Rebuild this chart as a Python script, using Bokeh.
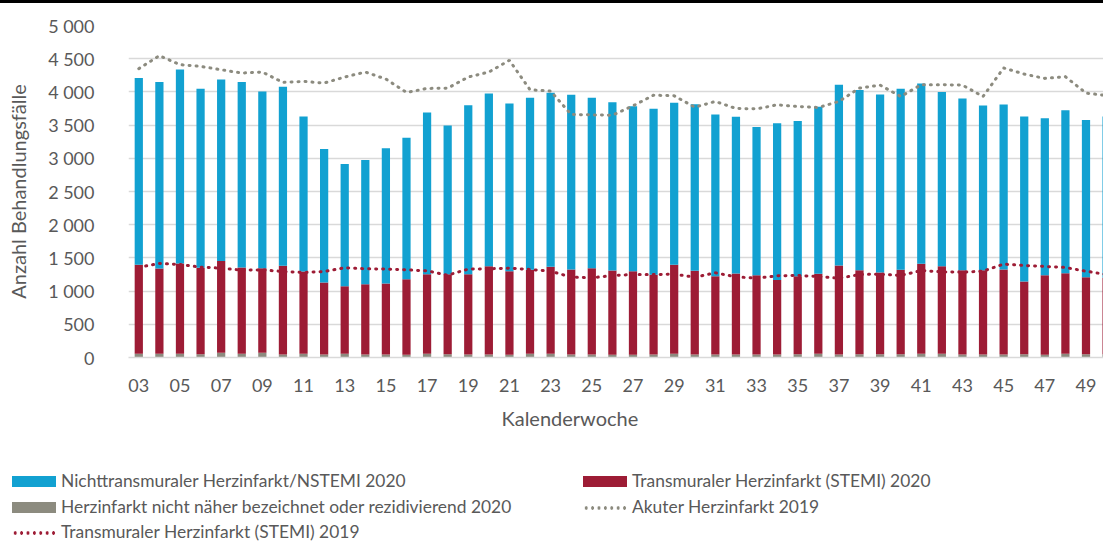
from bokeh.plotting import figure
from bokeh.models import (Range1d, FixedTicker, Title, Div, ColumnDataSource)
from bokeh.layouts import column
from bokeh.embed import file_html
from bokeh.resources import INLINE

# ---- data ----
weeks = list(range(3, 51))
tick_weeks = list(range(3, 50, 2))
tick_labels = ["%02d" % w for w in tick_weeks]

grey_2020 = [55, 55, 55, 50, 70, 55, 70, 45, 55, 45, 55, 45, 45, 40, 55, 50, 45, 45, 40, 55, 55, 45, 45, 40,
             40, 45, 55, 45, 45, 45, 45, 45, 50, 55, 45, 50, 50, 50, 55, 55, 45, 45, 45, 50, 40, 55, 50, 50]
stemi_2020 = [1341, 1286, 1361, 1301, 1382, 1301, 1276, 1336, 1240, 1084, 1019, 1059, 1069, 1139, 1200, 1205,
              1210, 1331, 1260, 1265, 1311, 1281, 1301, 1270, 1260, 1200, 1341, 1260, 1180, 1220, 1195, 1124,
              1175, 1205, 1341, 1265, 1230, 1270, 1356, 1321, 1270, 1270, 1281, 1094, 1200, 1215, 1160, 1150]
nstemi_2020 = [2812, 2807, 2923, 2696, 2736, 2792, 2661, 2696, 2334, 2011, 1839, 1870, 2036, 2132, 2434, 2238,
               2545, 2601, 2525, 2591, 2621, 2630, 2565, 2536, 2485, 2500, 2439, 2510, 2434, 2359, 2233, 2359,
               2338, 2515, 2722, 2712, 2681, 2727, 2717, 2621, 2586, 2480, 2484, 2485, 2364, 2455, 2368, 2429]
akut_2019 = [4350, 4546, 4410, 4385, 4334, 4284, 4299, 4143, 4158, 4133, 4224, 4299, 4193, 3992, 4052, 4057,
             4224, 4299, 4476, 4032, 4012, 3659, 3654, 3649, 3790, 3951, 3941, 3770, 3856, 3750, 3745, 3805,
             3780, 3765, 3856, 4057, 4103, 3931, 4108, 4108, 4103, 3931, 4360, 4269, 4203, 4229, 3982, 3946]
stemi_2019 = [1361, 1416, 1401, 1361, 1346, 1315, 1320, 1295, 1280, 1295, 1351, 1336, 1331, 1320, 1305, 1240,
              1331, 1336, 1346, 1326, 1300, 1210, 1200, 1235, 1250, 1250, 1255, 1210, 1275, 1215, 1194, 1230,
              1235, 1220, 1194, 1250, 1255, 1235, 1310, 1290, 1285, 1300, 1406, 1386, 1371, 1356, 1300, 1250]

names = ["Nichttransmuraler Herzinfarkt/NSTEMI 2020",
         "Transmuraler Herzinfarkt (STEMI) 2020",
         "Herzinfarkt nicht näher bezeichnet oder rezidivierend 2020",
         "Akuter Herzinfarkt 2019",
         "Transmuraler Herzinfarkt (STEMI) 2019"]

C_BLUE = "#12a1d1"
C_RED = "#9d1c35"
C_GREY = "#8c8b7f"
C_TEXT = "#595959"
C_GRID = "#d9d9d9"
FONT = "Lato"
W = 1103

src = ColumnDataSource(dict(week=weeks, grey=grey_2020, stemi=stemi_2020, nstemi=nstemi_2020,
                            akut19=akut_2019, stemi19=stemi_2019))

p = figure(width=W, height=441, output_backend="svg", toolbar_location=None,
           x_range=Range1d(2.5, 49.85), y_range=Range1d(0, 5000),
           min_border_left=128, min_border_right=0, min_border_top=22, min_border_bottom=87)
p.outline_line_color = None

p.vbar_stack(["grey", "stemi", "nstemi"], x="week", width=0.4, source=src,
             color=[C_GREY, C_RED, C_BLUE], line_color=None)
p.line("week", "akut19", source=src, line_color=C_GREY, line_width=3,
       line_dash="1 6", line_cap="round")
p.line("week", "stemi19", source=src, line_color=C_RED, line_width=3,
       line_dash="1 6", line_cap="round")

# axes
p.xgrid.grid_line_color = None
p.ygrid.grid_line_color = C_GRID
p.ygrid.grid_line_width = 1.5
p.yaxis.ticker = FixedTicker(ticks=list(range(0, 5001, 500)))
p.yaxis.major_label_overrides = {v: ("{:,}".format(v).replace(",", " ")) for v in range(0, 5001, 500)}
p.yaxis.axis_line_color = None
p.yaxis.major_tick_line_color = None
p.yaxis.minor_tick_line_color = None
p.yaxis.major_label_standoff = 28
p.yaxis.axis_label = "Anzahl Behandlungsfälle"
p.yaxis.axis_label_standoff = 15

p.xaxis.ticker = FixedTicker(ticks=tick_weeks)
p.xaxis.major_label_overrides = dict(zip(tick_weeks, tick_labels))
p.xaxis.axis_line_color = C_GRID
p.xaxis.axis_line_width = 1.5
p.xaxis.major_tick_line_color = None
p.xaxis.minor_tick_line_color = None
p.xaxis.major_label_standoff = 15

for ax in (p.xaxis[0], p.yaxis[0]):
    ax.major_label_text_font = FONT
    ax.major_label_text_font_size = "18px"
    ax.major_label_text_color = C_TEXT
    ax.axis_label_text_font = FONT
    ax.axis_label_text_font_size = "20px"
    ax.axis_label_text_font_style = "normal"
    ax.axis_label_text_color = C_TEXT

xt = Title(text="Kalenderwoche", align="left", offset=373, text_font=FONT, text_font_size="20px",
           text_font_style="normal", text_color=C_TEXT, standoff=18)
p.add_layout(xt, "below")

# ---- legend (HTML strip below the chart) ----
def swatch_box(color):
    return ('<span style="display:inline-block;width:44px;height:11px;background:%s;'
            'vertical-align:middle;margin-right:5px;position:relative;top:-1px"></span>' % color)


def swatch_dots(color):
    return ('<span style="display:inline-block;width:44px;height:4px;vertical-align:middle;'
            'margin-right:5px;position:relative;top:-1px;'
            'background-image:radial-gradient(circle at center, %s 1.5px, rgba(255,255,255,0) 1.9px);'
            'background-size:6.4px 4px;background-repeat:repeat-x"></span>' % color)


legend_rows = [
    (12, 28, swatch_box(C_BLUE), names[0]),
    (583, 28, swatch_box(C_RED), names[1]),
    (12, 54, swatch_box(C_GREY), names[2]),
    (583, 54, swatch_dots(C_GREY), names[3]),
    (12, 79, swatch_dots(C_RED), names[4]),
]
html = ('<div style="position:relative;width:%dpx;height:98px;font-family:Lato;font-size:17.4px;'
        'color:%s">' % (W, C_TEXT))
for x, y, sw, label in legend_rows:
    html += ('<div style="position:absolute;left:%dpx;top:%dpx;height:18px;line-height:18px;'
             'white-space:nowrap">%s%s</div>' % (x, y, sw, label))
html += '</div>'
legend_div = Div(text=html, width=W, height=95, margin=0)

bar = Div(text="", width=W, height=3, margin=0, styles={"background-color": "black"})
lay = column(bar, p, legend_div, spacing=0)

open("out.html", "w").write(file_html(lay, INLINE))
